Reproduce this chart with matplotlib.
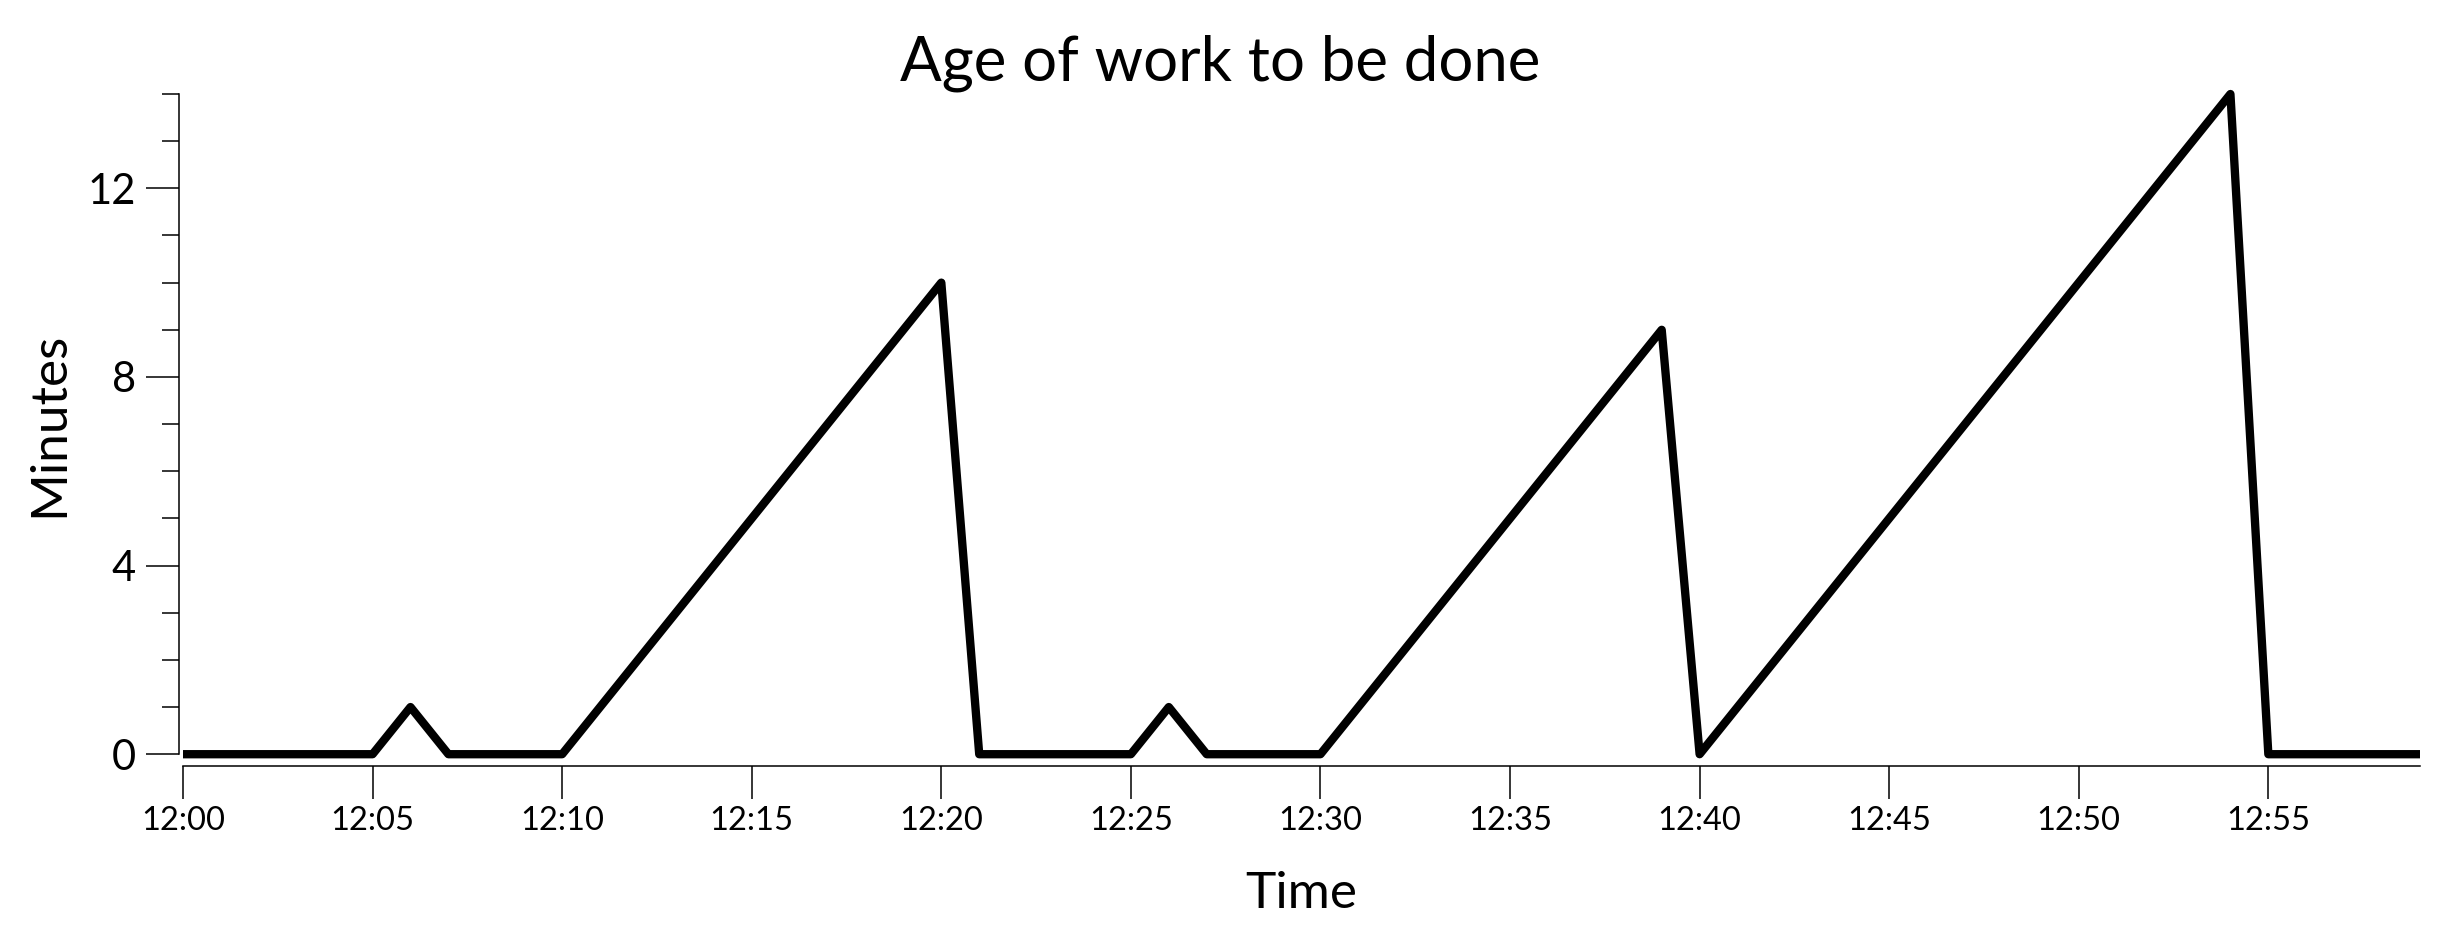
import matplotlib
matplotlib.use('Agg')
import matplotlib.pyplot as plt
import matplotlib.ticker as mticker

plt.rcParams['font.family'] = ['Lato', 'DejaVu Sans']

# ── Data: minutes past 12:00 and age of oldest work (minutes) ────────
minutes = [0, 5, 6, 7, 10, 20, 21, 25, 26, 27, 30, 39, 40, 54, 55, 59]
age     = [0, 0, 1, 0, 0, 10, 0, 0, 1, 0, 0, 9, 0, 14, 0, 0]
x_ticks = list(range(0, 60, 5))
y_ticks = [0, 4, 8, 12]

fig = plt.figure(figsize=(24.4, 9.4), dpi=100)
ax = fig.add_axes([183 / 2440, 1 - 766 / 940, (2420 - 183) / 2440, (766 - 94) / 940])

ax.plot(minutes, age, color='black', linewidth=6, solid_joinstyle='round',
        solid_capstyle='butt', clip_on=False)

ax.set_xlim(0, 59)
ax.set_ylim(-0.25, 14)

for s in ['top', 'right']:
    ax.spines[s].set_visible(False)
ax.spines['left'].set_bounds(0, 14)
ax.spines['left'].set_position(('outward', 3))
ax.spines['left'].set_linewidth(1.1)
ax.spines['bottom'].set_linewidth(1.1)

ax.set_xticks(x_ticks)
ax.xaxis.set_major_formatter(mticker.FuncFormatter(lambda v, p: f'12:{int(v):02d}'))
ax.set_yticks(y_ticks)
ax.yaxis.set_minor_locator(mticker.MultipleLocator(1))

ax.tick_params(axis='x', which='major', length=24, width=1.1, labelsize=23.5, pad=5)
ax.tick_params(axis='y', which='major', length=24, width=1.1, labelsize=30, pad=7)
ax.tick_params(axis='y', which='minor', length=12, width=1.1)

ax.set_xlabel('Time', fontsize=37, labelpad=25)
ax.set_ylabel('Minutes', fontsize=37, labelpad=11)
# centre the y label on the drawn spine (0..14) rather than the full axes
ax.yaxis.label.set_y((7 + 0.25) / 14.25)

fig.text(0.5, 1 - 81 / 940, 'Age of work to be done', ha='center', va='baseline', fontsize=44.5)

fig.savefig('out.png', dpi=100)
